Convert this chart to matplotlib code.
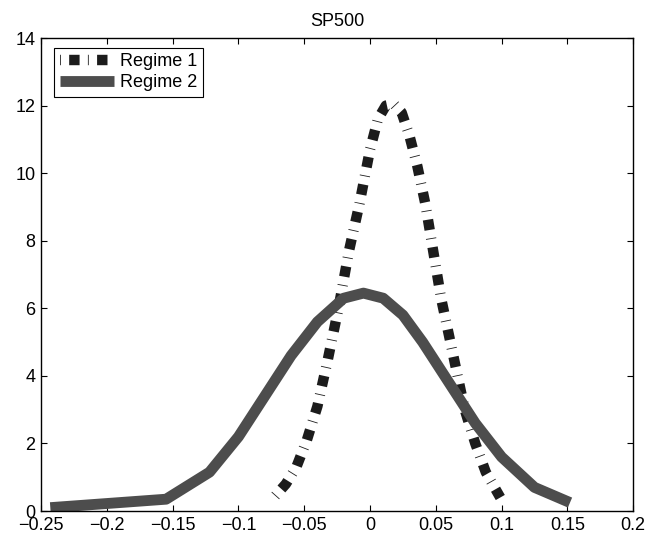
import matplotlib

matplotlib.use("Agg")
import matplotlib.pyplot as plt

plt.rcParams["font.family"] = ["Liberation Sans", "DejaVu Sans"]
plt.rcParams["lines.scale_dashes"] = False

# density estimates
regime1_x = [-0.072, -0.064, -0.056, -0.048, -0.040, -0.032, -0.024, -0.016, -0.008, 0.000,
             0.006, 0.012, 0.018, 0.024, 0.030, 0.036, 0.042, 0.048, 0.054, 0.060,
             0.066, 0.072, 0.080, 0.088, 0.099]
regime1_y = [0.45, 0.80, 1.30, 2.10, 3.10, 4.50, 6.00, 7.70, 9.10, 10.70,
             11.60, 12.00, 12.05, 11.80, 11.10, 10.20, 9.10, 7.70, 6.30, 5.20,
             4.10, 3.00, 2.00, 1.15, 0.40]

regime2_x = [-0.243, -0.155, -0.122, -0.100, -0.080, -0.060, -0.040, -0.020, -0.005,
             0.010, 0.025, 0.040, 0.060, 0.080, 0.100, 0.125, 0.152]
regime2_y = [0.10, 0.35, 1.15, 2.20, 3.40, 4.60, 5.60, 6.30, 6.45,
             6.30, 5.80, 5.00, 3.80, 2.60, 1.60, 0.70, 0.25]

series_labels = ["Regime 1", "Regime 2"]
title = "SP500"

xticks = [-0.25, -0.2, -0.15, -0.1, -0.05, 0, 0.05, 0.1, 0.15, 0.2]
xtick_labels = ["\u22120.25", "\u22120.2", "\u22120.15", "\u22120.1", "\u22120.05",
                "0", "0.05", "0.1", "0.15", "0.2"]
yticks = [0, 2, 4, 6, 8, 10, 12, 14]

FONT = 13


def main() -> None:
    fig = plt.figure(figsize=(6.63, 5.36), dpi=100)
    ax = fig.add_axes([0.062, 0.0466, 0.893, 0.8824])

    ax.plot(regime1_x, regime1_y, color="#1c1c1c", linewidth=7.5,
            linestyle=(13.5, (7.5, 6.0, 0.6, 6.0)), solid_capstyle="butt",
            dash_capstyle="butt", label=series_labels[0])
    ax.plot(regime2_x, regime2_y, color="#4d4d4d", linewidth=7.8,
            solid_capstyle="butt", solid_joinstyle="round", label=series_labels[1])

    ax.set_xlim(-0.25, 0.2)
    ax.set_ylim(0, 14)
    ax.set_xticks(xticks)
    ax.set_xticklabels(xtick_labels)
    ax.set_yticks(yticks)
    ax.tick_params(direction="in", top=True, right=True, labelsize=FONT,
                   length=4.5, width=0.8)
    ax.tick_params(axis="x", pad=4)
    ax.tick_params(axis="y", pad=4)
    for spine in ax.spines.values():
        spine.set_linewidth(1.0)
    ax.set_title(title, fontsize=FONT, pad=9)

    # legend box sits at about (54, 48) px in the reference
    leg = ax.legend(loc="upper left", bbox_to_anchor=(13 / 592, 1 - 10 / 473),
                    fontsize=FONT, handlelength=3.0, handletextpad=0.35,
                    borderpad=0.3, labelspacing=0.22, borderaxespad=0.0,
                    fancybox=False, framealpha=1.0, edgecolor="black")
    leg.get_frame().set_linewidth(0.8)

    fig.savefig("out.png", dpi=100)
    plt.close(fig)


if __name__ == "__main__":
    main()
